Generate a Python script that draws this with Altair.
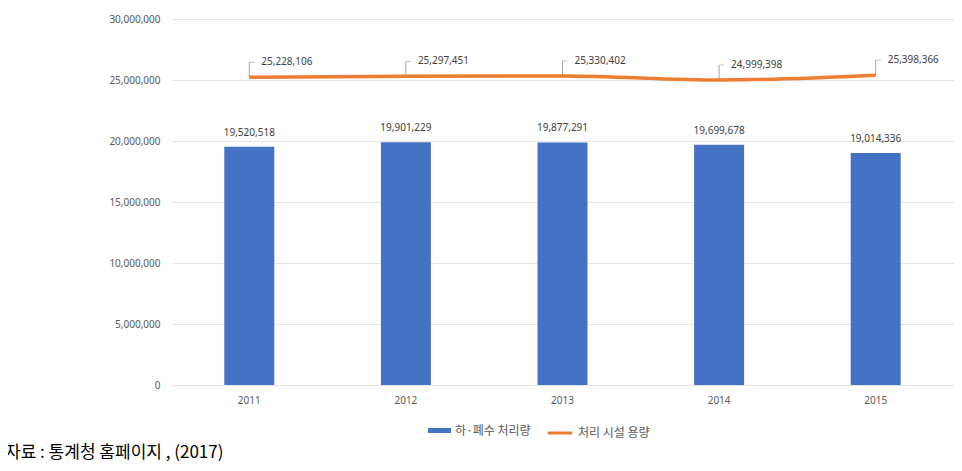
import altair as alt
import pandas as pd

years = ["2011", "2012", "2013", "2014", "2015"]
treated = [19520518, 19901229, 19877291, 19699678, 19014336]
capacity = [25228106, 25297451, 25330402, 24999398, 25398366]
series_names = ["하·폐수 처리량", "처리 시설 용량"]
y_ticks = [0, 5000000, 10000000, 15000000, 20000000, 25000000, 30000000]
source_note = "자료 : 통계청 홈페이지 , (2017)"

df = pd.DataFrame({
    "year": years,
    "treated": treated,
    "capacity": capacity,
    "bar_series": [series_names[0]] * len(years),
    "line_series": [series_names[1]] * len(years),
})
note_df = pd.DataFrame({"note": [source_note]})

LABEL_FONT = "Noto Sans"
KR_FONT = "Noto Sans CJK KR"
GRAY = "#595959"

x_enc = alt.X(
    "year:N",
    scale=alt.Scale(paddingInner=0, paddingOuter=0),
    axis=alt.Axis(title=None, labelAngle=0, domain=False, ticks=False,
                  labelPadding=10, labelFontSize=10, labelColor=GRAY,
                  labelFont=LABEL_FONT, grid=False),
)
y_scale = alt.Scale(domain=[0, 30000000])
y_axis = alt.Axis(values=y_ticks, labelExpr="format(datum.value, ',')", title=None,
                  domain=False, ticks=False,
                  labelPadding=11, labelFontSize=10, labelColor=GRAY, labelFont=LABEL_FONT,
                  gridColor="#e6e6e6", gridWidth=1)


def y_of(field):
    return alt.Y(field, scale=y_scale, axis=y_axis)


base = alt.Chart(df)

bars = base.mark_bar(size=50).encode(
    x=x_enc,
    y=y_of("treated:Q"),
    fill=alt.Fill(
        "bar_series:N",
        scale=alt.Scale(domain=[series_names[0]], range=["#4472C4"]),
        legend=alt.Legend(title=None, orient="none", legendX=257, legendY=400,
                          symbolType="M-1,-0.22H1V0.22H-1Z", symbolSize=529,
                          symbolStrokeWidth=0, labelFontSize=12, labelColor=GRAY,
                          labelFont=KR_FONT, labelOffset=4),
    ),
)

bar_labels = base.mark_text(dy=-9, baseline="bottom", fontSize=10, color="#404040",
                            font=LABEL_FONT).encode(
    x=x_enc,
    y=y_of("treated:Q"),
    text=alt.Text("treated:Q", format=","),
)

line = base.mark_line(strokeWidth=3.5, interpolate="monotone").encode(
    x=x_enc,
    y=y_of("capacity:Q"),
    stroke=alt.Stroke(
        "line_series:N",
        scale=alt.Scale(domain=[series_names[1]], range=["#ED7D31"]),
        legend=alt.Legend(title=None, orient="none", legendX=375, legendY=400,
                          symbolType="stroke", symbolSize=600, symbolStrokeWidth=3,
                          labelFontSize=12, labelColor=GRAY, labelFont=KR_FONT,
                          labelOffset=4),
    ),
)

leader_v = base.mark_rule(color="#a6a6a6", strokeWidth=1, y2Offset=-15).encode(
    x=x_enc,
    y=y_of("capacity:Q"),
    y2=alt.Y2("capacity:Q"),
)

leader_h = base.mark_tick(orient="horizontal", size=5, thickness=1, color="#a6a6a6",
                          xOffset=2.5, yOffset=-15).encode(
    x=x_enc,
    y=y_of("capacity:Q"),
)

line_labels = base.mark_text(align="left", baseline="middle", dx=12, dy=-15,
                             fontSize=10, color="#404040", font=LABEL_FONT).encode(
    x=x_enc,
    y=y_of("capacity:Q"),
    text=alt.Text("capacity:Q", format=","),
)

note = alt.Chart(note_df).mark_text(align="left", baseline="alphabetic", fontSize=17,
                                    font=KR_FONT, color="#000000").encode(
    x=alt.value(-166),
    y=alt.value(439),
    text="note:N",
)

chart = alt.layer(bars, bar_labels, leader_v, leader_h, line, line_labels, note).resolve_scale(
    fill="independent", stroke="independent"
).properties(
    width=783,
    height=366,
    autosize=alt.AutoSizeParams(type="none"),
    padding={"left": 163, "top": 11, "right": 0, "bottom": 78},
    background="#ffffff",
).configure_view(stroke=None)

chart.save("out.html", embed_options={"renderer": "svg", "actions": False})
